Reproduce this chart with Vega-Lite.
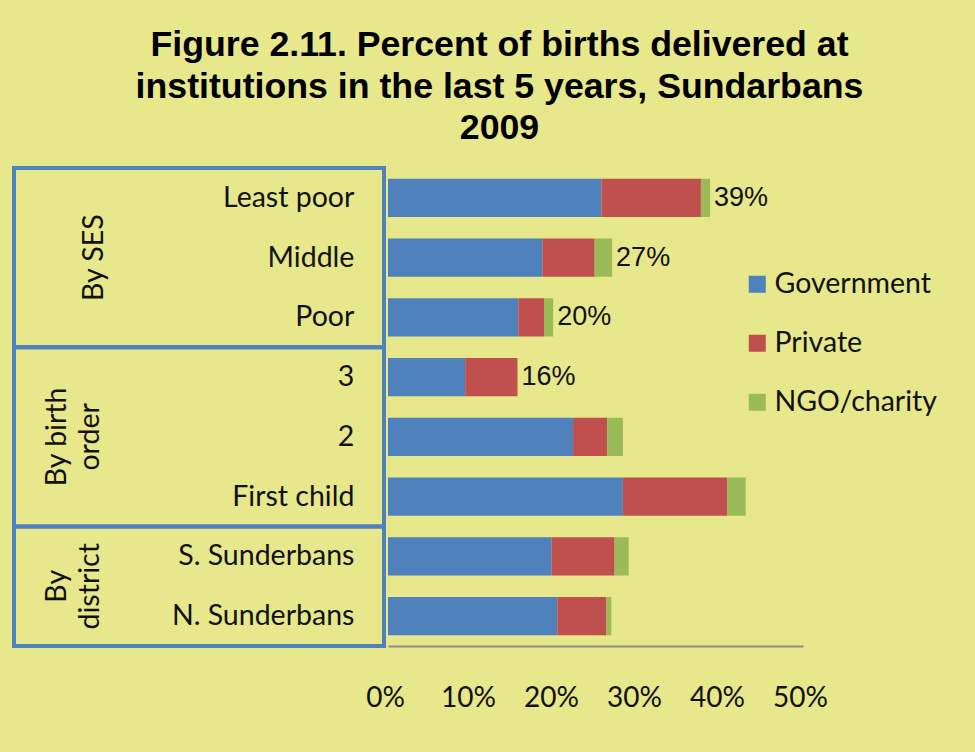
{
  "$schema": "https://vega.github.io/schema/vega-lite/v6.json",
  "background": "#E7E78B",
  "padding": {"left": 12, "top": 27, "right": 44, "bottom": 44},
  "title": {
    "text": ["Figure 2.11. Percent of births delivered at", "institutions in the last 5 years, Sundarbans", "2009"],
    "font": "Liberation Sans",
    "fontSize": 35.7,
    "fontWeight": "bold",
    "lineHeight": 41.5,
    "anchor": "middle",
    "offset": 19,
    "dx": 25,
    "color": "#000000"
  },
  "datasets": {
    "bars": [
      {"category": "Least poor", "type": "Government", "value": 0.257},
      {"category": "Least poor", "type": "Private", "value": 0.120},
      {"category": "Least poor", "type": "NGO/charity", "value": 0.011},
      {"category": "Middle", "type": "Government", "value": 0.186},
      {"category": "Middle", "type": "Private", "value": 0.063},
      {"category": "Middle", "type": "NGO/charity", "value": 0.021},
      {"category": "Poor", "type": "Government", "value": 0.157},
      {"category": "Poor", "type": "Private", "value": 0.031},
      {"category": "Poor", "type": "NGO/charity", "value": 0.011},
      {"category": "3", "type": "Government", "value": 0.093},
      {"category": "3", "type": "Private", "value": 0.063},
      {"category": "3", "type": "NGO/charity", "value": 0.0},
      {"category": "2", "type": "Government", "value": 0.223},
      {"category": "2", "type": "Private", "value": 0.041},
      {"category": "2", "type": "NGO/charity", "value": 0.019},
      {"category": "First child", "type": "Government", "value": 0.283},
      {"category": "First child", "type": "Private", "value": 0.126},
      {"category": "First child", "type": "NGO/charity", "value": 0.022},
      {"category": "S. Sunderbans", "type": "Government", "value": 0.197},
      {"category": "S. Sunderbans", "type": "Private", "value": 0.076},
      {"category": "S. Sunderbans", "type": "NGO/charity", "value": 0.017},
      {"category": "N. Sunderbans", "type": "Government", "value": 0.204},
      {"category": "N. Sunderbans", "type": "Private", "value": 0.059},
      {"category": "N. Sunderbans", "type": "NGO/charity", "value": 0.006}
    ],
    "groups": [
      {"group": "By SES", "start": 0, "end": 3},
      {"group": "By birth\norder", "start": 3, "end": 6},
      {"group": "By\ndistrict", "start": 6, "end": 8}
    ]
  },
  "bounds": "flush",
  "spacing": 4,
  "hconcat": [
    {
      "width": 370,
      "height": 478,
      "layer": [
        {
          "data": {"name": "groups"},
          "mark": {"type": "rect", "fill": "transparent", "stroke": "#4F81BD", "strokeWidth": 4},
          "encoding": {
            "x": {"datum": 0, "type": "quantitative", "scale": {"domain": [0, 1]}, "axis": null},
            "x2": {"datum": 1},
            "y": {"field": "start", "type": "quantitative", "scale": {"domain": [0, 8], "reverse": true}, "axis": null},
            "y2": {"field": "end"}
          }
        },
        {
          "data": {"name": "groups"},
          "transform": [
            {"filter": {"field": "group", "equal": "By SES"}},
            {"calculate": "(datum.start + datum.end) / 2", "as": "mid"}
          ],
          "mark": {"type": "text", "angle": 270, "align": "center", "baseline": "bottom", "lineBreak": "\n", "font": "Lato", "fontSize": 28.5, "lineHeight": 33, "color": "#111111"},
          "encoding": {
            "x": {"datum": 0.258, "type": "quantitative"},
            "y": {"field": "mid", "type": "quantitative", "scale": {"domain": [0, 8], "reverse": true}, "axis": null},
            "text": {"field": "group", "type": "nominal"}
          }
        },
        {
          "data": {"name": "groups"},
          "transform": [
            {"filter": {"not": {"field": "group", "equal": "By SES"}}},
            {"calculate": "(datum.start + datum.end) / 2", "as": "mid"}
          ],
          "mark": {"type": "text", "angle": 270, "align": "center", "baseline": "bottom", "lineBreak": "\n", "font": "Lato", "fontSize": 28.5, "lineHeight": 33, "color": "#111111"},
          "encoding": {
            "x": {"datum": 0.158, "type": "quantitative"},
            "y": {"field": "mid", "type": "quantitative", "scale": {"domain": [0, 8], "reverse": true}, "axis": null},
            "text": {"field": "group", "type": "nominal"}
          }
        },
        {
          "data": {"name": "bars"},
          "transform": [{"filter": "datum.type === 'Government'"}],
          "mark": {"type": "text", "align": "right", "baseline": "middle", "font": "Lato", "fontSize": 28.5, "color": "#111111"},
          "encoding": {
            "x": {"datum": 0.92, "type": "quantitative"},
            "y": {
              "field": "category", "type": "nominal",
              "scale": {"type": "point", "padding": 0.5, "domain": ["Least poor", "Middle", "Poor", "3", "2", "First child", "S. Sunderbans", "N. Sunderbans"]},
              "axis": null
            },
            "text": {"field": "category", "type": "nominal"}
          }
        }
      ],
      "resolve": {"scale": {"y": "independent"}}
    },
    {
      "width": 415,
      "height": 478,
      "data": {"name": "bars"},
      "layer": [
        {
          "transform": [{"calculate": "indexof(['Government', 'Private', 'NGO/charity'], datum.type)", "as": "stackOrder"}],
          "mark": {"type": "bar"},
          "encoding": {
            "y": {
              "field": "category", "type": "nominal",
              "scale": {"domain": ["Least poor", "Middle", "Poor", "3", "2", "First child", "S. Sunderbans", "N. Sunderbans"], "paddingInner": 0.36, "paddingOuter": 0.18},
              "axis": null
            },
            "x": {
              "field": "value", "type": "quantitative", "stack": "zero",
              "scale": {"domain": [0, 0.5], "nice": false},
              "axis": {
                "values": [0, 0.1, 0.2, 0.3, 0.4, 0.5],
                "format": ".0%",
                "title": null,
                "ticks": false,
                "grid": false,
                "domainColor": "#8C8C8C",
                "domainWidth": 2,
                "labelFont": "Lato",
                "labelFontSize": 28,
                "labelColor": "#111111",
                "labelPadding": 38,
                "labelFlush": false,
                "labelOverlap": false,
                "labelOffset": -3
              }
            },
            "order": {"field": "stackOrder", "type": "quantitative"},
            "color": {
              "field": "type", "type": "nominal",
              "sort": ["Government", "Private", "NGO/charity"],
              "scale": {"domain": ["Government", "Private", "NGO/charity"], "range": ["#4F81BD", "#C0504D", "#9BBB59"]},
              "legend": {
                "title": null,
                "orient": "none",
                "legendX": 729,
                "legendY": 102,
                "symbolType": "square",
                "symbolSize": 289,
                "symbolStrokeWidth": 0,
                "labelFont": "Lato",
                "labelFontSize": 28.5,
                "labelColor": "#111111",
                "labelLimit": 0,
                "rowPadding": 30,
                "labelOffset": 3,
                "padding": 0
              }
            }
          }
        },
        {
          "transform": [{"filter": {"field": "category", "oneOf": ["Least poor", "Middle", "Poor", "3"]}}],
          "mark": {"type": "text", "align": "left", "baseline": "middle", "dx": 4, "font": "Liberation Sans", "fontSize": 27, "color": "#111111"},
          "encoding": {
            "y": {"field": "category", "type": "nominal"},
            "x": {"aggregate": "sum", "field": "value", "type": "quantitative"},
            "text": {"aggregate": "sum", "field": "value", "type": "quantitative", "format": ".0%"}
          }
        }
      ]
    }
  ],
  "config": {
    "view": {"stroke": null}
  }
}
